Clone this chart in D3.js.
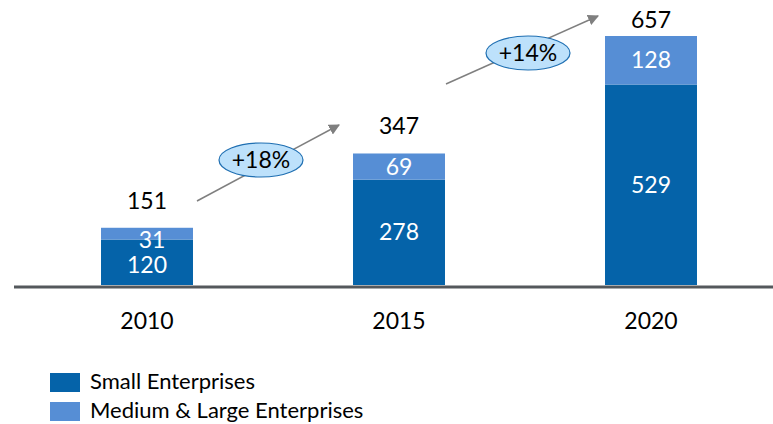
<!DOCTYPE html>
<html>
<head>
  <meta charset="utf-8">
  <title>Enterprises</title>
  <script src="https://d3js.org/d3.v7.min.js"></script>
  <style>
    body { margin: 0; background: #fff; }
    text { font-family: Lato, "Open Sans", sans-serif; }
  </style>
</head>
<body>
  <svg id="chart"></svg>

  <script>
    // data
    var years = ["2010", "2015", "2020"];
    var small = [120, 278, 529];
    var mediumLarge = [31, 69, 128];
    var totals = [151, 347, 657];
    var growth = ["+18%", "+14%"];
    var seriesNames = ["Small Enterprises", "Medium & Large Enterprises"];
    var colors = ["#0563A9", "#568ED5"];

    var width = 773, height = 424;
    var svg = d3.select("#chart").attr("width", width).attr("height", height);

    var x = d3.scaleBand().domain(years).range([21, 777])
              .paddingInner(0.635).paddingOuter(0.3175);
    var y = d3.scaleLinear().domain([0, 657]).range([285, 36]);

    var rows = years.map(function(yr, i) {
      return { year: yr, small: small[i], medium: mediumLarge[i], total: totals[i] };
    });
    var stacked = d3.stack().keys(["small", "medium"])(rows);

    // bars
    svg.append("g").selectAll("g")
      .data(stacked).enter().append("g")
      .attr("fill", function(d, i) { return colors[i]; })
      .selectAll("rect")
      .data(function(d) { return d; }).enter().append("rect")
      .attr("x", function(d) { return x(d.data.year); })
      .attr("y", function(d) { return y(d[1]); })
      .attr("width", x.bandwidth())
      .attr("height", function(d) { return y(d[0]) - y(d[1]); });

    // segment labels
    svg.append("g").selectAll("text")
      .data(rows).enter().append("text")
      .attr("x", function(d) { return x(d.year) + x.bandwidth() / 2; })
      .attr("y", function(d, i) { return i === 0 ? 273 : y(d.small / 2) + 8; })
      .attr("text-anchor", "middle").attr("font-size", 23).attr("fill", "#fff")
      .text(function(d) { return d.small; });

    svg.append("g").selectAll("text")
      .data(rows).enter().append("text")
      .attr("x", function(d, i) { return x(d.year) + x.bandwidth() / 2 + (i === 0 ? 5 : 0); })
      .attr("y", function(d, i) { return i === 0 ? 248 : y(d.small + d.medium / 2) + 8; })
      .attr("text-anchor", "middle").attr("font-size", 23).attr("fill", "#fff")
      .text(function(d) { return d.medium; });

    // totals
    svg.append("g").selectAll("text")
      .data(rows).enter().append("text")
      .attr("x", function(d) { return x(d.year) + x.bandwidth() / 2; })
      .attr("y", function(d) { return Math.max(28, y(d.total) - 19); })
      .attr("text-anchor", "middle").attr("font-size", 23).attr("fill", "#000")
      .text(function(d) { return d.total; });

    // baseline
    svg.append("line")
      .attr("x1", 14).attr("x2", width).attr("y1", 287).attr("y2", 287)
      .attr("stroke", "#54585c").attr("stroke-width", 3);

    // year labels
    svg.append("g").selectAll("text")
      .data(years).enter().append("text")
      .attr("x", function(d) { return x(d) + x.bandwidth() / 2; })
      .attr("y", 329)
      .attr("text-anchor", "middle").attr("font-size", 23).attr("fill", "#000")
      .text(function(d) { return d; });

    // growth arrows
    svg.append("defs").append("marker")
      .attr("id", "head").attr("viewBox", "0 0 10 10")
      .attr("refX", 9).attr("refY", 5)
      .attr("markerWidth", 11).attr("markerHeight", 11)
      .attr("markerUnits", "userSpaceOnUse")
      .attr("orient", "auto")
      .append("path").attr("d", "M0,0L10,5L0,10Z").attr("fill", "#7f7f7f");

    var arrows = [
      { x1: x("2010") + x.bandwidth() + 4, y1: 201, x2: x("2015") - 14, y2: 125, cx: 261, cy: 160 },
      { x1: x("2015") + x.bandwidth() + 1, y1: 84, x2: x("2020") - 7, y2: 16, cx: 528, cy: 53 }
    ];
    arrows.forEach(function(a, i) {
      svg.append("line")
        .attr("x1", a.x1).attr("y1", a.y1).attr("x2", a.x2).attr("y2", a.y2)
        .attr("stroke", "#7f7f7f").attr("stroke-width", 1.5)
        .attr("marker-end", "url(#head)");
      svg.append("ellipse")
        .attr("cx", a.cx).attr("cy", a.cy).attr("rx", 42).attr("ry", 17)
        .attr("fill", "#bde1fb").attr("stroke", "#1f6fb2").attr("stroke-width", 1.2);
      svg.append("text")
        .attr("x", a.cx).attr("y", a.cy + 8)
        .attr("text-anchor", "middle").attr("font-size", 23).attr("fill", "#000")
        .text(growth[i]);
    });

    // legend
    var legend = svg.append("g").selectAll("g")
      .data(seriesNames).enter().append("g")
      .attr("transform", function(d, i) { return "translate(50," + (373 + i * 29) + ")"; });
    legend.append("rect").attr("width", 30).attr("height", 19)
      .attr("fill", function(d, i) { return colors[i]; });
    legend.append("text").attr("x", 40).attr("y", 16)
      .attr("font-size", 22).attr("fill", "#000")
      .text(function(d) { return d; });
  </script>
</body>
</html>
